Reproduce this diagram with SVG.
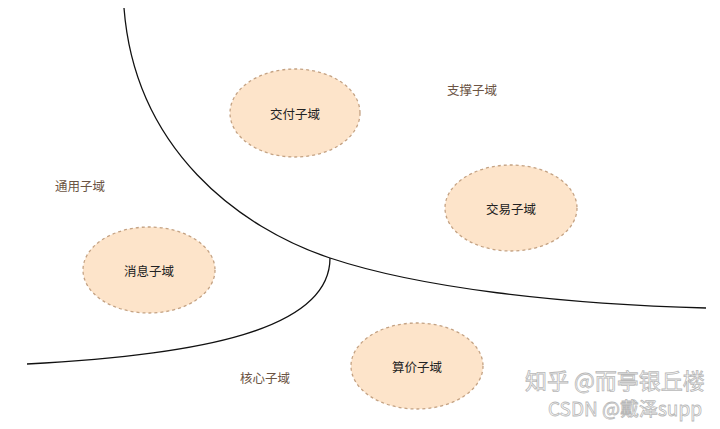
<svg xmlns="http://www.w3.org/2000/svg" width="720" height="429" viewBox="0 0 720 429">
<style>
.node ellipse{fill:#fde4ca;stroke:#c4a283;stroke-width:1.3;stroke-dasharray:3 3}
.node text{font-family:"Noto Sans CJK SC","Liberation Sans",sans-serif;font-size:12.5px;fill:#222;text-anchor:middle;dominant-baseline:central}
.lbl{font-family:"Noto Sans CJK SC","Liberation Sans",sans-serif;font-size:12.5px;fill:#6b5443;text-anchor:middle;dominant-baseline:central}
.line{fill:none;stroke:#111;stroke-width:1.3}
.wm{font-family:"Noto Sans CJK SC","Liberation Sans",sans-serif;fill:#fff;stroke:#b8b8b8;stroke-width:0.8}
</style>
<rect width="720" height="429" fill="#fff"/>
<g id="connectors">
<path class="line" d="M124,8 C135,150 240,228 330,258 C420,288 560,304 706,308"/>
<path class="line" d="M330,258 C330,330 200,355 27,364"/>
</g>
<g id="delivery" class="node"><ellipse cx="295" cy="113" rx="65" ry="44"/><text x="295" y="113">交付子域</text></g>
<g id="trade" class="node"><ellipse cx="511" cy="208" rx="66" ry="43"/><text x="511" y="208">交易子域</text></g>
<g id="message" class="node"><ellipse cx="149" cy="270" rx="66" ry="43"/><text x="149" y="270">消息子域</text></g>
<g id="pricing" class="node"><ellipse cx="417" cy="366" rx="66" ry="43"/><text x="417" y="366">算价子域</text></g>
<g id="labels">
<text class="lbl" x="472" y="89">支撑子域</text>
<text class="lbl" x="80" y="185">通用子域</text>
<text class="lbl" x="265" y="377">核心子域</text>
</g>
<g id="watermark">
<text class="wm" x="525" y="389" font-size="22">知乎 @而亭银丘楼</text>
<text class="wm" x="548" y="416" font-size="19">CSDN @戴泽supp</text>
</g>
</svg>
